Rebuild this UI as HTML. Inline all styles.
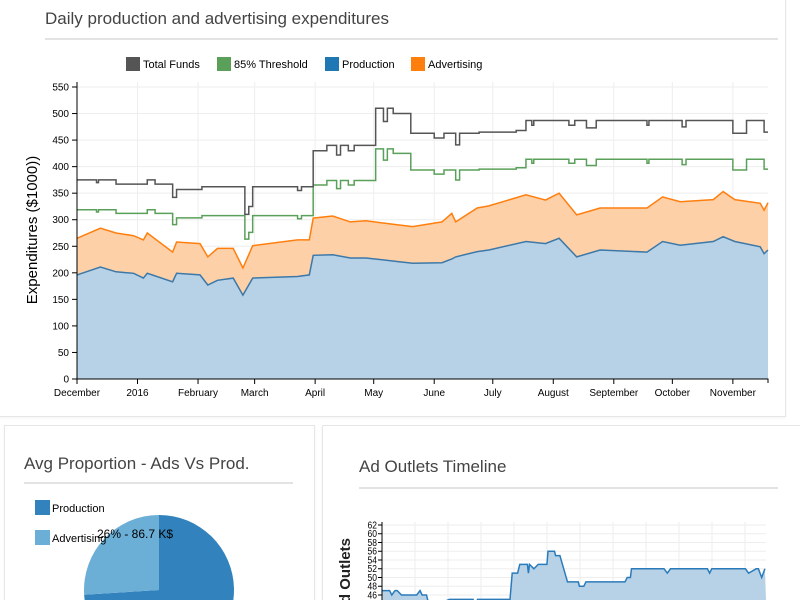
<!DOCTYPE html>
<html><head><meta charset="utf-8"><style>
html,body{margin:0;width:800px;height:600px;overflow:hidden;background:#fff;font-family:"Liberation Sans",sans-serif;position:relative}
.card{position:absolute;box-sizing:border-box;background:#fff;border:1px solid #e6e6e6;box-shadow:0 1px 2px rgba(0,0,0,.05)}
svg{position:absolute;left:0;top:0;overflow:hidden}
</style></head><body>
<div class="card" style="left:-1px;top:-1px;width:787px;height:418px"></div>
<div class="card" style="left:4px;top:425px;width:311px;height:175px;border-bottom:none"></div>
<div class="card" style="left:322px;top:425px;width:478px;height:175px;border-bottom:none;border-right:none"></div>
<svg id="s" width="800" height="600">
<defs><clipPath id="frame"><rect x="0" y="0" width="800" height="600"/></clipPath></defs>
<g clip-path="url(#frame)">
<text x="45" y="24" font-size="17" fill="#444">Daily production and advertising expenditures</text>
<line x1="45" y1="39" x2="778" y2="39" stroke="#e3e3e3" stroke-width="2"/>
<g font-size="11" fill="#000">
<rect x="126" y="57" width="14" height="14" fill="#555"/><text x="143" y="68">Total Funds</text>
<rect x="217" y="57" width="14" height="14" fill="#5aa05a"/><text x="234" y="68">85% Threshold</text>
<rect x="325" y="57" width="14" height="14" fill="#1f77b4"/><text x="342" y="68">Production</text>
<rect x="411" y="57" width="14" height="14" fill="#ff7f0e"/><text x="428" y="68">Advertising</text>
</g>
<text transform="translate(37,230) rotate(-90)" text-anchor="middle" font-size="15">Expenditures ($1000))</text>
<g id="main"></g>
<text x="24" y="469" font-size="17" fill="#444">Avg Proportion - Ads Vs Prod.</text>
<line x1="24" y1="483" x2="293" y2="483" stroke="#e3e3e3" stroke-width="2"/>
<g id="pie"></g>
<text x="359" y="472" font-size="17" fill="#444">Ad Outlets Timeline</text>
<line x1="359" y1="488" x2="778" y2="488" stroke="#e3e3e3" stroke-width="2"/>
<text transform="translate(350,576) rotate(-90)" text-anchor="middle" font-size="15" font-weight="bold" fill="#222">Ad Outlets</text>
<g id="out"></g>
</g>
</svg>
<script>
const NS="http://www.w3.org/2000/svg";
function mk(p,t,a){const e=document.createElementNS(NS,t);for(const k in a)e.setAttribute(k,a[k]);p.appendChild(e);return e;}
// ---- main chart data ----
const monthLabels=["December","2016","February","March","April","May","June","July","August","September","October","November"];
const monthDays=[0,31,62,91,122,152,183,213,244,275,305,336];
const yTicks=[0,50,100,150,200,250,300,350,400,450,500,550];
const fundDays=[0,10,11,20,36,40,49,51,64,86,88,90,113,115,121,128,133,135,139,142,153,157,159,162,171,183,188,194,196,206,225,230,233,234,252,255,261,266,292,293,310,312,336,343,352];
const fundVals=[375,370,375,367,375,367,342,357,362,310,325,362,355,362,430,440,422,440,430,440,510,485,510,500,463,454,463,441,463,465,468,487,478,487,478,487,473,487,478,487,475,487,463,487,465];
const thresholdPct=0.85;
const sDays=[0,12,20,29,34,36,49,51,63,67,72,80,85,90,113,119,121,131,140,148,165,172,187,192,194,205,211,230,240,247,256,268,292,300,309,326,331,337,350,352,354];
const production=[196,211,202,199,190,199,183,199,196,177,186,190,158,190,193,196,233,234,228,228,221,218,219,226,230,240,243,259,255,265,230,243,239,259,252,259,268,259,249,236,243];
const advertising=[69,73,73,71,72,76,56,59,59,53,60,56,51,61,69,66,70,73,68,70,69,69,77,86,66,82,83,88,82,85,79,79,83,84,82,79,85,79,82,82,89];
const X0=77,X1=768,Y0=379,Y1=87,DMAX=354,VMAX=550;
const xs=d=>X0+d/DMAX*(X1-X0), ys=v=>Y0-v/VMAX*(Y0-Y1);
const g=document.getElementById('main');
monthDays.forEach(d=>{const l=mk(g,'line',{x1:xs(d),x2:xs(d),y1:Y1-5,y2:Y0,stroke:'#eee'});

});
yTicks.forEach(v=>{const l=mk(g,'line',{x1:X0,x2:X1,y1:ys(v),y2:ys(v),stroke:'#eee'});

});
const topPts=sDays.map((d,i)=>[xs(d),ys(production[i]+advertising[i])]);
const prodPts=sDays.map((d,i)=>[xs(d),ys(production[i])]);
const pl=a=>a.map((p,i)=>(i?'L':'M')+p[0].toFixed(1)+','+p[1].toFixed(1)).join('');
const adA=mk(g,'path',{d:pl(topPts)+prodPts.slice().reverse().map(p=>'L'+p[0]+','+p[1]).join('')+'Z',fill:'#fdd0a8'});


const prA=mk(g,'path',{d:pl(prodPts)+`L${xs(DMAX)},${Y0}L${X0},${Y0}Z`,fill:'#b7d2e6'});


const adL=mk(g,'path',{d:pl(topPts),fill:'none',stroke:'#ff7f0e','stroke-width':1.5});


const prL=mk(g,'path',{d:pl(prodPts),fill:'none',stroke:'#3c78a8','stroke-width':1.5});


function step(vals){let s='';vals.forEach((v,i)=>{const x=xs(fundDays[i]),y=ys(v);s+=i?`H${x}V${y}`:`M${x},${y}`;});return s+'H'+xs(DMAX);}
const th=mk(g,'path',{d:step(fundVals.map(v=>v*thresholdPct)),fill:'none',stroke:'#5aa05a','stroke-width':1.5});


const tf=mk(g,'path',{d:step(fundVals),fill:'none',stroke:'#555','stroke-width':1.5});


const ax=mk(g,'path',{d:`M${X0},${Y1-5}V${Y0}H${X1}V${Y0+4}`,fill:'none',stroke:'#000'});


yTicks.forEach(v=>{mk(g,'line',{x1:X0-5,x2:X0,y1:ys(v),y2:ys(v),stroke:'#000'});
const t=mk(g,'text',{x:X0-8,y:ys(v)+3.5,'text-anchor':'end','font-size':10});t.textContent=v;

});
monthDays.forEach((d,i)=>{mk(g,'line',{x1:xs(d),x2:xs(d),y1:Y0,y2:Y0+5,stroke:'#000'});
const t=mk(g,'text',{x:xs(d),y:Y0+17,'text-anchor':'middle','font-size':10});t.textContent=monthLabels[i];

});
// ---- pie ----
const pieLabels=["Production","Advertising"];
const pieValues=[246.8,86.7];
const pieColors=["#3182bd","#6baed6"];
const pg=document.getElementById('pie');
const cx=159,cy=590,r=75,tot=pieValues[0]+pieValues[1];
let a0=0;
pieValues.forEach((v,i)=>{const a1=a0+v/tot*2*Math.PI;
const p=(a)=>[cx+r*Math.sin(a),cy-r*Math.cos(a)];const s=p(a0),e=p(a1);
const sl=mk(pg,'path',{d:`M${cx},${cy}L${s[0]},${s[1]}A${r},${r} 0 ${a1-a0>Math.PI?1:0} 1 ${e[0]},${e[1]}Z`,fill:pieColors[i]});

a0=a1;});
pieLabels.forEach((n,i)=>{const y=500+i*30;const rr=mk(pg,'rect',{x:35,y:y,width:15,height:15,fill:pieColors[i]});


const t=mk(pg,'text',{x:52,y:y+12,'font-size':11});t.textContent=n;

});
const pt=mk(pg,'text',{x:97,y:538,'font-size':12});
pt.textContent=Math.round(pieValues[1]/tot*100)+'% - '+pieValues[1]+' K$';


// ---- outlets ----
const oDays=[0,7,9,12,14,18,32,35,37,41,44,62,84,86,88,118,120,125,127,134,135,136,140,144,152,153,159,160,164,171,181,182,186,188,224,226,229,230,260,263,266,300,302,304,335,338,345,347,350,353];
const outlets=[47,47,46,47,47,46,46,47,46,46,43,45,45,43,45,45,51,51,53,53,51,53,52,53,53,56,56,55,55,49,49,48,48,49,49,50,50,52,52,51,52,52,51,52,52,51,52,52,50,52];
const oTicks=[46,48,50,52,54,56,58,60,62];
const OX0=382,OX1=766,ox=d=>OX0+d/354*(OX1-OX0),oy=v=>595-(v-46)*4.375;
const og=document.getElementById('out');
for(let x=OX0+33;x<OX1;x+=33){const l=mk(og,'line',{x1:x,x2:x,y1:522,y2:600,stroke:'#eee'});

}
oTicks.forEach(v=>{const l=mk(og,'line',{x1:OX0,x2:OX1,y1:oy(v),y2:oy(v),stroke:'#eee'});

});
const op=oDays.map((d,i)=>[ox(d),oy(outlets[i])]);
const oa=mk(og,'path',{d:pl(op)+`L${ox(354)},600L${OX0},600Z`,fill:'#b7d2e6'});


const ol=mk(og,'path',{d:pl(op),fill:'none',stroke:'#2b7bba','stroke-width':1.5});


const oax=mk(og,'line',{x1:OX0,x2:OX0,y1:522,y2:600,stroke:'#000'});


oTicks.forEach(v=>{mk(og,'line',{x1:OX0-4,x2:OX0,y1:oy(v),y2:oy(v),stroke:'#000'});
const t=mk(og,'text',{x:OX0-5,y:oy(v)+3.5,'text-anchor':'end','font-size':10,transform:`translate(${OX0-5},0) scale(0.85,1) translate(${-(OX0-5)},0)`});t.textContent=v;

});
</script>
</body></html>
